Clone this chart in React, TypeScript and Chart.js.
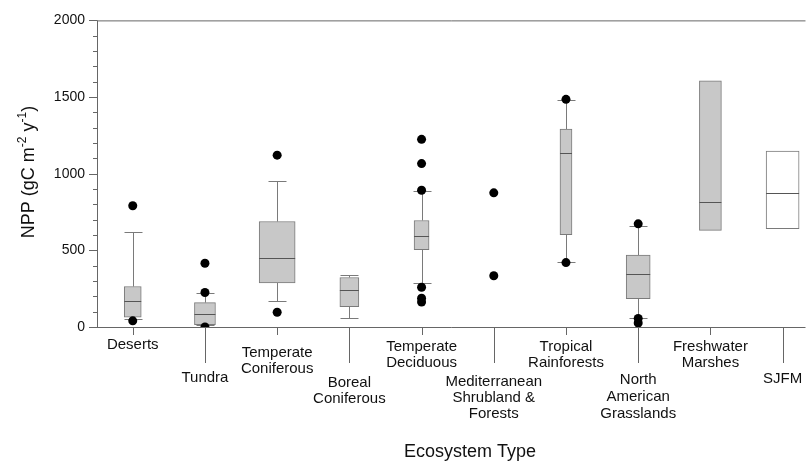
import React, { useEffect, useRef } from 'react';
import { Chart, registerables } from 'chart.js';

Chart.register(...registerables);

// ---- data ----
const categories = [
  'Deserts',
  'Tundra',
  'Temperate Coniferous',
  'Boreal Coniferous',
  'Temperate Deciduous',
  'Mediterranean Shrubland & Forests',
  'Tropical Rainforests',
  'North American Grasslands',
  'Freshwater Marshes',
  'SJFM',
];
const labelLines = [
  ['Deserts'],
  ['Tundra'],
  ['Temperate', 'Coniferous'],
  ['Boreal', 'Coniferous'],
  ['Temperate', 'Deciduous'],
  ['Mediterranean', 'Shrubland &', 'Forests'],
  ['Tropical', 'Rainforests'],
  ['North', 'American', 'Grasslands'],
  ['Freshwater', 'Marshes'],
  ['SJFM'],
];
const whiskerLow: (number | null)[] = [51, 10, 172, 56, 285, null, 426, 56, null, null];
const q1: (number | null)[] = [64, 16, 287, 133, 504, null, 603, 185, 630, 641];
const median: (number | null)[] = [167, 82, 452, 242, 592, null, 1132, 345, 817, 877];
const q3: (number | null)[] = [264, 159, 688, 323, 695, null, 1291, 469, 1606, 1147];
const whiskerHigh: (number | null)[] = [617, 221, 954, 341, 887, null, 1481, 662, null, null];
const outliers: number[][] = [
  [791, 40],
  [416, 225, 0],
  [1121, 96],
  [],
  [1224, 1066, 892, 259, 188, 163],
  [875, 334],
  [1485, 420],
  [673, 56, 26],
  [],
  [],
];
const yTickValues = [0, 500, 1000, 1500, 2000];

// ---- layout / style (not data) ----
const boxWidths = [17, 21, 36, 19, 15, 0, 12, 24, 22, 33];
const boxFills = ['#c8c8c8', '#c8c8c8', '#c8c8c8', '#c8c8c8', '#c8c8c8', '#c8c8c8', '#c8c8c8', '#c8c8c8', '#c8c8c8', '#ffffff'];
const labelBaselines = [
  [349],
  [382],
  [357, 373],
  [387, 403],
  [351, 367],
  [386, 402, 418],
  [351, 367],
  [384, 401, 418],
  [351, 367],
  [383],
];
const longTick = [false, true, false, true, false, true, false, true, false, true];
const FONT = '"Liberation Sans", Arial, Helvetica, sans-serif';
const AXIS = '#666666';
const LINE = '#7a7a7a';

const decorPlugin = {
  id: 'decor',
  beforeDatasetsDraw(chart: any) {
    const { ctx, scales } = chart;
    const x = scales.x, y = scales.y;
    ctx.save();
    ctx.strokeStyle = LINE;
    ctx.lineWidth = 1;
    categories.forEach((_, i) => {
      const cx = Math.round(x.getPixelForValue(i)) + 0.5;
      const pairs: [number | null, number | null][] = [
        [whiskerLow[i], q1[i]],
        [whiskerHigh[i], q3[i]],
      ];
      pairs.forEach(([w, b]) => {
        if (w == null || b == null) return;
        const yw = Math.round(y.getPixelForValue(w)) + 0.5;
        const yb = y.getPixelForValue(b);
        ctx.beginPath();
        ctx.moveTo(cx, yb);
        ctx.lineTo(cx, yw);
        ctx.moveTo(cx - 9, yw);
        ctx.lineTo(cx + 9, yw);
        ctx.stroke();
      });
    });
    ctx.restore();
  },
  afterDatasetsDraw(chart: any) {
    const { ctx, scales } = chart;
    const x = scales.x, y = scales.y;
    ctx.save();
    ctx.strokeStyle = '#555555';
    ctx.lineWidth = 1;
    categories.forEach((_, i) => {
      const m = median[i];
      if (m == null) return;
      const cx = x.getPixelForValue(i);
      const ym = Math.round(y.getPixelForValue(m)) + 0.5;
      ctx.beginPath();
      ctx.moveTo(cx - boxWidths[i] / 2, ym);
      ctx.lineTo(cx + boxWidths[i] / 2, ym);
      ctx.stroke();
    });
    ctx.restore();
  },
  afterDraw(chart: any) {
    const { ctx, scales, chartArea } = chart;
    const x = scales.x, y = scales.y;
    const L = chartArea.left, R = chartArea.right, T = chartArea.top, B = chartArea.bottom;
    ctx.save();
    ctx.strokeStyle = AXIS;
    ctx.lineWidth = 1;
    ctx.beginPath();
    ctx.moveTo(L + 0.5, T);
    ctx.lineTo(L + 0.5, B + 0.5);
    ctx.moveTo(L, B + 0.5);
    ctx.lineTo(R, B + 0.5);
    ctx.moveTo(L, T + 0.5);
    ctx.lineTo(R, T + 0.5);
    // y ticks (major + minor)
    for (let v = 0; v <= 2000; v += 100) {
      const py = Math.round(y.getPixelForValue(v)) + 0.5;
      const len = yTickValues.includes(v) ? 8 : 4;
      ctx.moveTo(L - len, py);
      ctx.lineTo(L, py);
    }
    // x ticks
    categories.forEach((_, i) => {
      const px = Math.round(x.getPixelForValue(i)) + 0.5;
      ctx.moveTo(px, B);
      ctx.lineTo(px, longTick[i] ? 363 : 335);
    });
    ctx.stroke();

    // category labels
    ctx.fillStyle = '#111111';
    ctx.font = `15px ${FONT}`;
    ctx.textAlign = 'center';
    ctx.textBaseline = 'alphabetic';
    labelLines.forEach((lines, i) => {
      const px = x.getPixelForValue(i);
      lines.forEach((t, j) => ctx.fillText(t, px, labelBaselines[i][j]));
    });

    // x title
    ctx.font = `18px ${FONT}`;
    ctx.fillText('Ecosystem Type', 470, 457);

    // y title with superscripts
    ctx.translate(34, 172);
    ctx.rotate(-Math.PI / 2);
    const big = `18px ${FONT}`;
    const small = `12px ${FONT}`;
    const segs = [
      { t: 'NPP (gC m', f: big, dy: 0 },
      { t: '-2', f: small, dy: -8 },
      { t: ' y', f: big, dy: 0 },
      { t: '-1', f: small, dy: -8 },
      { t: ')', f: big, dy: 0 },
    ];
    let total = 0;
    segs.forEach((s) => {
      ctx.font = s.f;
      total += ctx.measureText(s.t).width;
    });
    let cur = -total / 2;
    ctx.textAlign = 'left';
    segs.forEach((s) => {
      ctx.font = s.f;
      ctx.fillText(s.t, cur, s.dy);
      cur += ctx.measureText(s.t).width;
    });
    ctx.restore();
  },
};

export default function App() {
  const ref = useRef<HTMLCanvasElement | null>(null);

  useEffect(() => {
    if (!ref.current) return;
    const boxDatasets = categories
      .map((c, i) => ({ c, i }))
      .filter(({ i }) => q1[i] != null && q3[i] != null)
      .map(({ c, i }) => ({
        type: 'bar' as const,
        label: c,
        data: [{ x: i, y: [q1[i] as number, q3[i] as number] }],
        barThickness: boxWidths[i],
        backgroundColor: boxFills[i],
        borderColor: LINE,
        borderWidth: 1,
        borderSkipped: false,
        stack: 'box',
        order: 2,
      }));
    const outlierPoints: { x: number; y: number }[] = [];
    outliers.forEach((arr, i) => arr.forEach((v) => outlierPoints.push({ x: i, y: v })));

    const chart = new Chart(ref.current, {
      type: 'bar',
      data: {
        datasets: [
          {
            type: 'scatter' as const,
            label: 'Outliers',
            data: outlierPoints,
            pointRadius: 4.5,
            pointBackgroundColor: '#000000',
            pointBorderColor: '#000000',
            pointBorderWidth: 0,
            order: 0,
          } as any,
          ...boxDatasets,
        ],
      },
      options: {
        animation: false,
        responsive: false,
        maintainAspectRatio: false,
        layout: { padding: { top: 16, left: 0, right: 0, bottom: 0 } },
        plugins: {
          legend: { display: false },
          tooltip: { enabled: false },
        },
        scales: {
          x: {
            type: 'linear',
            offset: false,
            min: -0.495,
            max: 9.317,
            grid: { display: false, drawTicks: false },
            border: { display: false },
            ticks: { display: false },
            afterFit: (s: any) => {
              s.height = 135;
            },
          },
          y: {
            type: 'linear',
            stacked: false,
            min: 0,
            max: 2000,
            grid: { display: false, drawTicks: false },
            border: { display: false },
            afterBuildTicks: (s: any) => {
              s.ticks = yTickValues.map((v) => ({ value: v }));
            },
            ticks: {
              padding: 12,
              color: '#111111',
              font: { family: FONT, size: 14 },
              callback: (v: any) => String(v),
            },
            afterFit: (s: any) => {
              s.width = 97;
            },
          },
        },
      } as any,
      plugins: [decorPlugin],
    });
    return () => chart.destroy();
  }, []);

  return (
    <div style={{ position: 'absolute', left: 0, top: 0, width: 810, height: 462, background: '#fff' }}>
      <canvas ref={ref} width={810} height={462} style={{ display: 'block' }} />
    </div>
  );
}
